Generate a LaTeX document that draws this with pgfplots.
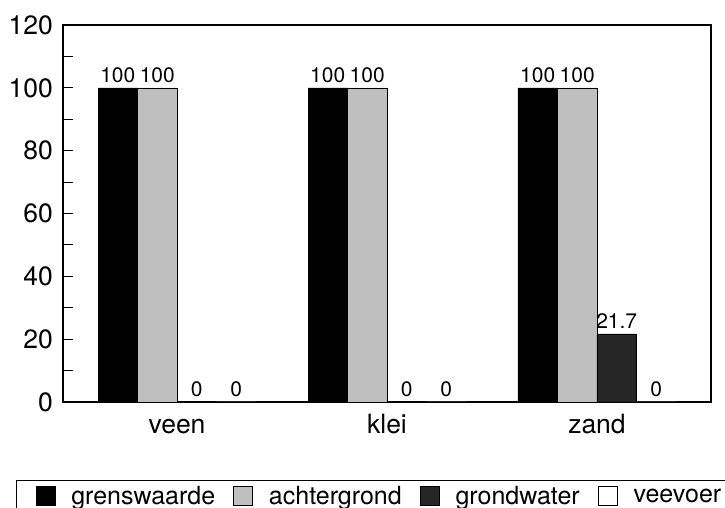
\documentclass[border=0pt]{standalone}
\usepackage{fontspec}
\setmainfont{TeX Gyre Heros}
\usepackage{pgfplots}
\pgfplotsset{compat=1.18}
\begin{document}
\begin{tikzpicture}
\useasboundingbox (0,0) rectangle (725pt,508pt);
\clip (0,0) rectangle (725pt,508pt);
\begin{axis}[
  at={(63pt,106pt)}, anchor=south west,
  scale only axis, width=648pt, height=377pt,
  ybar=0pt, bar width=39.5pt,
  xmin=-0.543, xmax=2.543, ymin=0, ymax=120,
  xtick={0,1,2}, xticklabels={veen,klei,zand},
  x tick style={draw=none},
  ytick={0,20,...,120}, minor ytick={10,30,...,110},
  ytick pos=left, tick align=inside,
  major tick length=10pt, minor tick length=10pt,
  axis line style={line width=1.1pt},
  every tick/.style={black, line width=1pt},
  tick label style={font=\fontsize{26.5}{26.5}\selectfont},
  /pgf/number format/assume math mode=true,
  yticklabel style={inner xsep=0pt, xshift=-10pt},
  xticklabel style={anchor=base, inner sep=0pt, yshift=-32pt},
  nodes near coords,
  nodes near coords style={font=\fontsize{21}{21}\selectfont, anchor=base, inner sep=0pt, yshift=5pt, black},
  legend columns=4,
  legend style={at={(-0.0725,-0.2500)}, anchor=west, draw=black, line width=1pt,
    font=\fontsize{25}{25}\selectfont, inner xsep=19pt, inner ysep=4pt,
    /tikz/every odd column/.append style={column sep=14pt},
    /tikz/every even column/.append style={column sep=16pt}},
  legend image code/.code={\draw[#1, draw=black, line width=0.8pt] (0pt,-9.5pt) rectangle (19pt,9.5pt);},
]
\addplot[fill=black, draw=black] coordinates {(0,100) (1,100) (2,100)};
\addplot[fill=black!25, draw=black] coordinates {(0,100) (1,100) (2,100)};
\addplot[fill=black!85, draw=black] coordinates {(0,0) (1,0) (2,21.7)};
\addplot[fill=white, draw=black] coordinates {(0,0) (1,0) (2,0)};
\legend{grenswaarde, achtergrond, grondwater, veevoer}
\end{axis}
\end{tikzpicture}
\end{document}
